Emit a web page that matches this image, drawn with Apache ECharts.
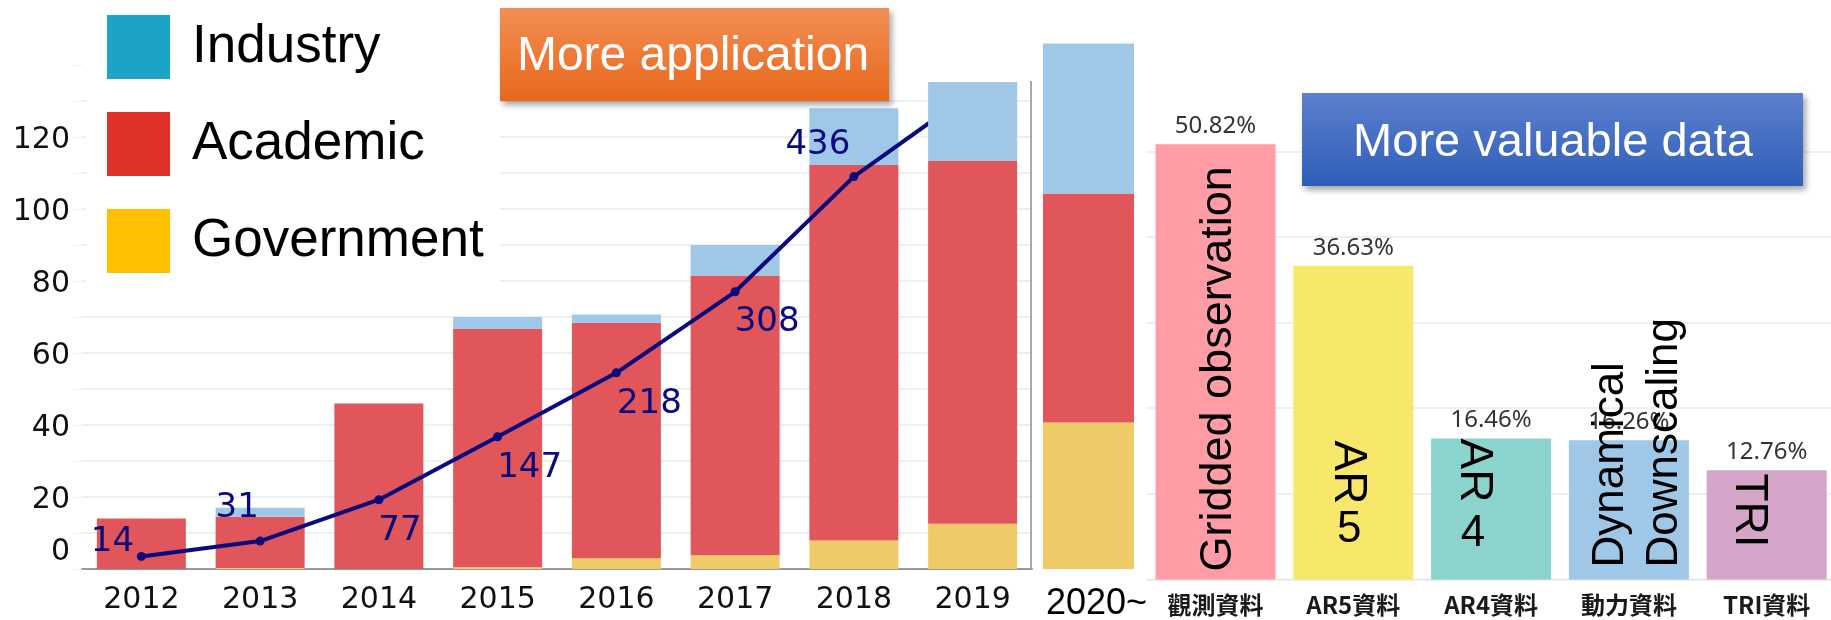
<!DOCTYPE html>
<html lang="en">
<head>
<meta charset="UTF-8">
<title>Users by sector and data usage</title>
<script src="https://cdn.jsdelivr.net/npm/echarts@6/dist/echarts.min.js"></script>
<style>
  html, body { margin: 0; padding: 0; background: #fff; }
  #chart { width: 1831px; height: 620px; }
</style>
</head>
<body>
<div id="chart"></div>
<script>
// yearly users by sector (left chart)
var years = ['2012', '2013', '2014', '2015', '2016', '2017', '2018', '2019'];
var government = [0, 0.3, 0, 0.5, 3, 3.8, 7.9, 12.6];
var academic = [14, 14.2, 46, 66.2, 65.4, 77.7, 104.3, 100.7];
var industry = [0, 2.5, 0, 3.3, 2.3, 8.5, 15.8, 22];
var cumulative = [14, 31, 77, 147, 218, 308, 436, 530];

// 2020~ bar
var laterCats = ['2020~'];
var laterGovernment = [40.7];
var laterAcademic = [63.6];
var laterIndustry = [41.7];

// data usage share (right chart)
var dataCats = ['觀測資料', 'AR5資料', 'AR4資料', '動力資料', 'TRI資料'];
var dataShare = [50.82, 36.63, 16.46, 16.26, 12.76];
var dataNames = ['Gridded observation', 'AR', 'AR', 'Dynamical\nDownscaling', 'TRI'];
var dataDigits = ['', '5', '4', '', ''];

var colInd = '#9FC8E8', colAcad = '#E0565A', colGov = '#EFCB67';
var rightColors = ['#FF9CA6', '#F7E76B', '#8AD4CD', '#9FC8E8', '#D4A5C8'];
var navy = '#0A0A7E';

// label placement of the cumulative line, per point
var lineLabelOffsets = [[-29, -14], [-23, -33], [21, 31], [32, 31], [33, 31], [32, 30], [-36, -31], [0, 0]];

// rotated names inside the right bars
var nameLabelStyles = [
    { rotate: 90, align: 'left', distance: 8, offset: [0, 3], fontSize: 45 },
    { rotate: -90, align: 'right', distance: 75, offset: [0, 6], fontSize: 46 },
    { rotate: -90, align: 'right', distance: 77, offset: [0, 17], fontSize: 46 },
    { rotate: 90, align: 'left', distance: 12, offset: [0, 9], fontSize: 44, lineHeight: 54 },
    { rotate: -90, align: 'right', distance: 32, offset: [0, 18], fontSize: 46 }
];
var digitOffsets = [[0, 0], [-4, 0], [-18, 0], [0, 0], [0, 0]];
var digitDistances = [0, 28, 24, 0, 0];

var chart = echarts.init(document.getElementById('chart'));

function early(arr) { return arr.map(function (v, i) { return i < years.length - 1 ? v : '-'; }); }
function late(arr) { return arr.map(function (v, i) { return i === years.length - 1 ? v : '-'; }); }

var sans = '"DejaVu Sans", Verdana, sans-serif';
var arial = '"Liberation Sans", Arial, sans-serif';

var series = [];
// 2012-2018 stack, under the line
[['Government', government, colGov], ['Academic', academic, colAcad], ['Industry', industry, colInd]].forEach(function (s) {
    series.push({
        name: s[0], type: 'bar', stack: 'early', xAxisIndex: 0, yAxisIndex: 0,
        data: early(s[1]), barWidth: 89, barGap: '-100%', z: 2,
        itemStyle: { color: s[2] }
    });
});
// 2019 stack drawn above the line
[['Government', government, colGov], ['Academic', academic, colAcad], ['Industry', industry, colInd]].forEach(function (s) {
    series.push({
        name: s[0], type: 'bar', stack: 'late', xAxisIndex: 0, yAxisIndex: 0,
        data: late(s[1]), barWidth: 89, barGap: '-100%', z: 4,
        itemStyle: { color: s[2] }
    });
});
series.push({
    name: 'Total', type: 'line', xAxisIndex: 0, yAxisIndex: 1, z: 3,
    data: cumulative.map(function (v, i) {
        return { value: v, label: { show: i < years.length - 1, offset: lineLabelOffsets[i] } };
    }),
    symbol: 'circle', symbolSize: 9,
    lineStyle: { color: navy, width: 4 },
    itemStyle: { color: navy },
    label: { position: 'inside', fontSize: 34, fontFamily: sans, color: navy }
});
// 2020~
[['Government', laterGovernment, colGov], ['Academic', laterAcademic, colAcad], ['Industry', laterIndustry, colInd]].forEach(function (s) {
    series.push({
        name: s[0], type: 'bar', stack: 'later', xAxisIndex: 1, yAxisIndex: 2,
        data: s[1], barWidth: 91, itemStyle: { color: s[2] }
    });
});
// data share
series.push({
    name: 'Share', type: 'bar', xAxisIndex: 2, yAxisIndex: 3, data: dataShare,
    barWidth: 120, barGap: '-100%', z: 2,
    itemStyle: { color: function (p) { return rightColors[p.dataIndex]; } },
    label: {
        show: true, position: 'top', distance: 6, formatter: '{c}%',
        fontSize: 24, fontFamily: '"Noto Sans", sans-serif', color: '#333'
    }
});
series.push({
    name: 'Names', type: 'bar', xAxisIndex: 2, yAxisIndex: 3, barWidth: 120, barGap: '-100%', z: 5,
    silent: true, itemStyle: { color: 'transparent' },
    data: dataShare.map(function (v, i) {
        var st = nameLabelStyles[i];
        return {
            value: v,
            label: {
                show: true, position: 'insideBottom', verticalAlign: 'middle',
                rotate: st.rotate, align: st.align, distance: st.distance, offset: st.offset,
                fontSize: st.fontSize, lineHeight: st.lineHeight || st.fontSize * 1.2,
                formatter: dataNames[i]
            }
        };
    }),
    label: { fontFamily: arial, color: '#000' }
});
series.push({
    name: 'Digits', type: 'bar', xAxisIndex: 2, yAxisIndex: 3, barWidth: 120, barGap: '-100%', z: 5,
    silent: true, itemStyle: { color: 'transparent' },
    data: dataShare.map(function (v, i) {
        return {
            value: v,
            label: { show: dataDigits[i] !== '', position: 'insideBottom', distance: digitDistances[i], offset: digitOffsets[i], formatter: dataDigits[i] }
        };
    }),
    label: { fontFamily: arial, fontSize: 44, color: '#000' }
});

var shadow = { shadowColor: 'rgba(0,0,0,0.35)', shadowBlur: 6, shadowOffsetX: 3, shadowOffsetY: 4 };

var option = {
    animation: false,
    backgroundColor: '#fff',
    legend: {
        left: 107, top: 15, orient: 'vertical', icon: 'rect', padding: 0,
        itemWidth: 63, itemHeight: 64, itemGap: 33, selectedMode: false,
        textStyle: { fontSize: 53, fontFamily: arial, color: '#000', padding: [0, 0, 0, 17] },
        data: [
            { name: 'Industry', itemStyle: { color: '#1CA3C8' } },
            { name: 'Academic', itemStyle: { color: '#DE3129' } },
            { name: 'Government', itemStyle: { color: '#FFC000' } }
        ]
    },
    grid: [
        { left: 82, top: 65, width: 950, height: 504, outerBoundsMode: 'none' },
        { left: 1036, top: 29, width: 105, height: 540, outerBoundsMode: 'none' },
        { left: 1146.6, top: 65.7, width: 689, height: 513.8, outerBoundsMode: 'none' }
    ],
    xAxis: [
        {
            gridIndex: 0, type: 'category', data: years,
            axisLine: { lineStyle: { color: '#9a9a9a', width: 2 } },
            axisTick: { length: 6, lineStyle: { color: '#e2e2e2' } },
            axisLabel: { fontSize: 30, fontFamily: sans, color: '#111', margin: 16 }
        },
        {
            gridIndex: 1, type: 'category', data: laterCats,
            axisLine: { show: false }, axisTick: { show: false },
            axisLabel: { fontSize: 36, fontFamily: arial, color: '#000', margin: 17, padding: [0, 0, 0, 16] }
        },
        {
            gridIndex: 2, type: 'category', data: dataCats,
            axisLine: { lineStyle: { color: '#e3e3e3', width: 1 } },
            axisTick: { length: 6, lineStyle: { color: '#e3e3e3' } },
            axisLabel: { interval: 0, fontSize: 24, fontWeight: 'bold', fontFamily: '"Noto Sans CJK TC", sans-serif', color: '#1a1a1a', margin: 13 }
        }
    ],
    yAxis: [
        {
            gridIndex: 0, type: 'value', min: 0, max: 140, interval: 10,
            axisLine: { show: false },
            axisTick: { show: true, length: 9, lineStyle: { color: '#eeeeee' } },
            axisLabel: {
                margin: 12, fontSize: 30, fontFamily: sans, color: '#111',
                formatter: function (v) {
                    if (v === 0) return '{z|0}';
                    return (v % 20 === 0 && v < 140) ? '{n|' + v + '}' : '';
                },
                rich: {
                    z: { fontSize: 30, fontFamily: sans, color: '#111', padding: [0, 0, 34, 0] },
                    n: { fontSize: 30, fontFamily: sans, color: '#111', padding: [6, 0, 0, 0] }
                }
            },
            splitLine: { showMaxLine: false, lineStyle: { color: '#efefef', width: 2 } }
        },
        { gridIndex: 0, type: 'value', min: 0, max: 560, show: false, splitLine: { show: false } },
        { gridIndex: 1, type: 'value', min: 0, max: 150, show: false, splitLine: { show: false } },
        {
            gridIndex: 2, type: 'value', min: 0, max: 60, interval: 10,
            axisLine: { show: false }, axisTick: { show: false }, axisLabel: { show: false },
            splitLine: { showMaxLine: false, lineStyle: { color: '#efefef', width: 2 } }
        }
    ],
    graphic: { elements: [
        // white backing behind the legend
        { type: 'rect', z: 1, shape: { x: 86, y: 0, width: 414, height: 300 }, style: { fill: '#fff' } },
        // right border of the left chart
        { type: 'line', z: 5, shape: { x1: 1031, y1: 81, x2: 1031, y2: 569 }, style: { stroke: '#a9a9a9', lineWidth: 2 } },
        {
            type: 'rect', z: 10, shape: { x: 500, y: 8, width: 389, height: 93 },
            style: Object.assign({
                fill: new echarts.graphic.LinearGradient(0, 0, 0, 1, [
                    { offset: 0, color: '#F28E55' }, { offset: 1, color: '#E8681B' }])
            }, shadow)
        },
        {
            type: 'text', z: 11, x: 693, y: 57,
            style: { text: 'More application', fill: '#fff', fontSize: 48, fontFamily: arial, align: 'center', verticalAlign: 'middle' }
        },
        {
            type: 'rect', z: 10, shape: { x: 1302, y: 93, width: 501, height: 93 },
            style: Object.assign({
                fill: new echarts.graphic.LinearGradient(0, 0, 0, 1, [
                    { offset: 0, color: '#5C80CD' }, { offset: 1, color: '#2F5EB9' }])
            }, shadow)
        },
        {
            type: 'text', z: 11, x: 1553, y: 143,
            style: { text: 'More valuable data', fill: '#fff', fontSize: 47, fontFamily: arial, align: 'center', verticalAlign: 'middle' }
        }
    ] },
    series: series
};

chart.setOption(option);
</script>
</body>
</html>
